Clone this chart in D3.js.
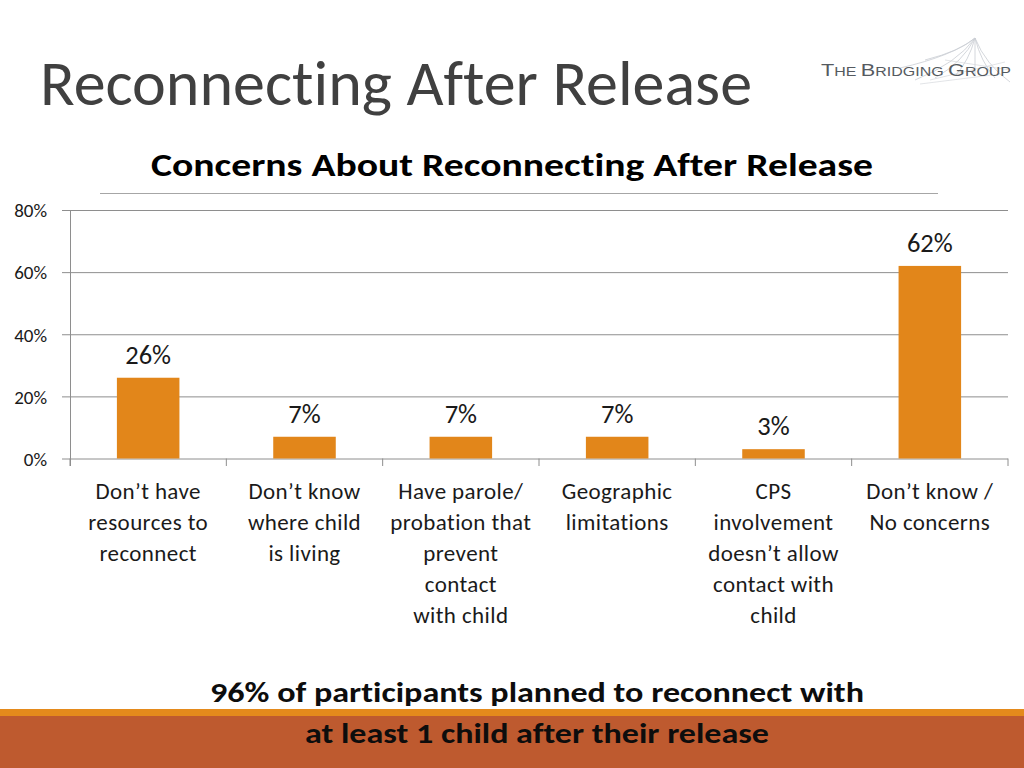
<!DOCTYPE html>
<html>
<head>
<meta charset="utf-8">
<script src="https://cdn.jsdelivr.net/npm/d3@7"></script>
<style>
  html, body { margin: 0; padding: 0; background: #fff; }
  svg { display: block; }
  text { font-family: Carlito, Lato, "Open Sans", sans-serif; font-variant-ligatures: none; }
</style>
</head>
<body>
<svg id="chart" width="1024" height="768"></svg>
<script>
// ---- data ----
const categories = [
  "Don’t have resources to reconnect",
  "Don’t know where child is living",
  "Have parole/ probation that prevent contact with child",
  "Geographic limitations",
  "CPS involvement doesn’t allow contact with child",
  "Don’t know / No concerns"
];
const categoryLines = [
  ["Don’t have", "resources to", "reconnect"],
  ["Don’t know", "where child", "is living"],
  ["Have parole/", "probation that", "prevent", "contact", "with child"],
  ["Geographic", "limitations"],
  ["CPS", "involvement", "doesn’t allow", "contact with", "child"],
  ["Don’t know /", "No concerns"]
];
const values = [0.26, 0.07, 0.07, 0.07, 0.03, 0.62];
const yTicks = [0, 0.2, 0.4, 0.6, 0.8];
const pageTitle = "Reconnecting After Release";
const chartTitle = "Concerns About Reconnecting After Release";
const footerLines = ["96% of participants planned to reconnect with", "at least 1 child after their release"];

// ---- drawing ----
const svg = d3.select("#chart");
const barColor = "#E2861A";
const gridColor = "#8E8E8E";

// page title
svg.append("text")
  .attr("x", 40).attr("y", 105)
  .attr("fill", "#404040")
  .style("font-size", "63px")
  .attr("textLength", 712).attr("lengthAdjust", "spacingAndGlyphs")
  .text(pageTitle);

// logo
const logo = svg.append("g");
const fan = [[-60, 42], [-40, 40], [-20, 38], [0, 38], [20, 40], [35, 44], [-75, 30], [-50, 22]];
fan.forEach(d => {
  logo.append("path")
    .attr("d", `M975,38 Q${975 + d[0] * 0.3},${38 + d[1] * 0.6} ${975 + d[0]},${38 + d[1]}`)
    .attr("fill", "none").attr("stroke", "#C9CDD3").attr("stroke-width", 0.8);
});
[[930, 80, 1005, 62], [920, 84, 1000, 74], [945, 60, 1010, 70]].forEach(l => {
  logo.append("line").attr("x1", l[0]).attr("y1", l[1]).attr("x2", l[2]).attr("y2", l[3])
    .attr("stroke", "#D5D8DC").attr("stroke-width", 0.7);
});
const logoText = logo.append("text")
  .attr("x", 821).attr("y", 76)
  .attr("fill", "#555a60")
  .style("font-family", "'Liberation Sans', Arial, sans-serif")
  .attr("textLength", 190).attr("lengthAdjust", "spacingAndGlyphs");
[["T", 17], ["HE ", 12.5], ["B", 17], ["RIDGING ", 12.5], ["G", 17], ["ROUP", 12.5]].forEach(p => {
  logoText.append("tspan").style("font-size", p[1] + "px").text(p[0]);
});

// chart title
svg.append("text")
  .attr("x", 512).attr("y", 176)
  .attr("text-anchor", "middle")
  .attr("fill", "#000")
  .style("font-size", "33px").style("font-weight", "bold")
  .attr("textLength", 722).attr("lengthAdjust", "spacingAndGlyphs")
  .text(chartTitle);
svg.append("line")
  .attr("x1", 100).attr("x2", 938).attr("y1", 193.5).attr("y2", 193.5)
  .attr("stroke", "#A6A6A6").attr("stroke-width", 1);

// scales
const x = d3.scaleBand().domain(categories).range([70, 1008]).paddingInner(0.6).paddingOuter(0.3);
const y = d3.scaleLinear().domain([0, 0.8]).range([458.5, 210]);

// gridlines + y axis
const yAxis = d3.axisLeft(y).tickValues(yTicks).tickFormat(d3.format(".0%"))
  .tickSize(8).tickPadding(15);
const yG = svg.append("g").attr("transform", "translate(70,0)").call(yAxis);
yG.select(".domain").remove();
yG.selectAll(".tick line").attr("stroke", gridColor).attr("x2", 938).attr("x1", -8);
yG.selectAll(".tick text")
  .attr("fill", "#1a1a1a").style("font-size", "19px")
  .attr("dy", "0.36em")
  .attr("x", -23);

// y axis line
svg.append("line")
  .attr("x1", 70.5).attr("x2", 70.5).attr("y1", 210).attr("y2", 466)
  .attr("stroke", gridColor).attr("stroke-width", 1);

// category boundary ticks
const step = x.step();
d3.range(categories.length + 1).forEach(i => {
  const xx = 70 + i * step;
  svg.append("line")
    .attr("x1", xx).attr("x2", xx).attr("y1", 458.5).attr("y2", 466)
    .attr("stroke", gridColor).attr("stroke-width", 1);
});

// bars
svg.append("g").selectAll("rect")
  .data(values)
  .join("rect")
  .attr("x", (d, i) => x(categories[i]))
  .attr("width", x.bandwidth())
  .attr("y", d => y(d))
  .attr("height", d => y(0) - y(d))
  .attr("fill", barColor);

// value labels
svg.append("g").selectAll("text")
  .data(values)
  .join("text")
  .attr("x", (d, i) => x(categories[i]) + x.bandwidth() / 2)
  .attr("y", d => y(d) - 14)
  .attr("text-anchor", "middle")
  .attr("fill", "#1a1a1a")
  .style("font-size", "26.5px")
  .text(d => d3.format(".0%")(d));

// category labels
const catG = svg.append("g");
categories.forEach((c, i) => {
  const cx = x(c) + x.bandwidth() / 2;
  const t = catG.append("text")
    .attr("x", cx)
    .attr("y", 499)
    .attr("text-anchor", "middle")
    .attr("fill", "#1a1a1a")
    .style("font-size", "23px")
    .style("letter-spacing", "0.4px");
  categoryLines[i].forEach((line, j) => {
    t.append("tspan")
      .attr("x", cx)
      .attr("y", 499 + j * 31)
      .text(line);
  });
});

// footer bands
svg.append("rect").attr("x", 0).attr("y", 709).attr("width", 1024).attr("height", 8).attr("fill", "#E48A1C");
svg.append("rect").attr("x", 0).attr("y", 716).attr("width", 1024).attr("height", 52).attr("fill", "#BE5A2F");

// footer text
footerLines.forEach((line, i) => {
  svg.append("text")
    .attr("x", 537).attr("y", 702 + i * 41)
    .attr("text-anchor", "middle")
    .attr("fill", "#0d0d0d")
    .style("font-size", "29px").style("font-weight", "bold")
    .attr("textLength", i === 0 ? 654 : 464).attr("lengthAdjust", "spacingAndGlyphs")
    .text(line);
});
</script>
</body>
</html>
